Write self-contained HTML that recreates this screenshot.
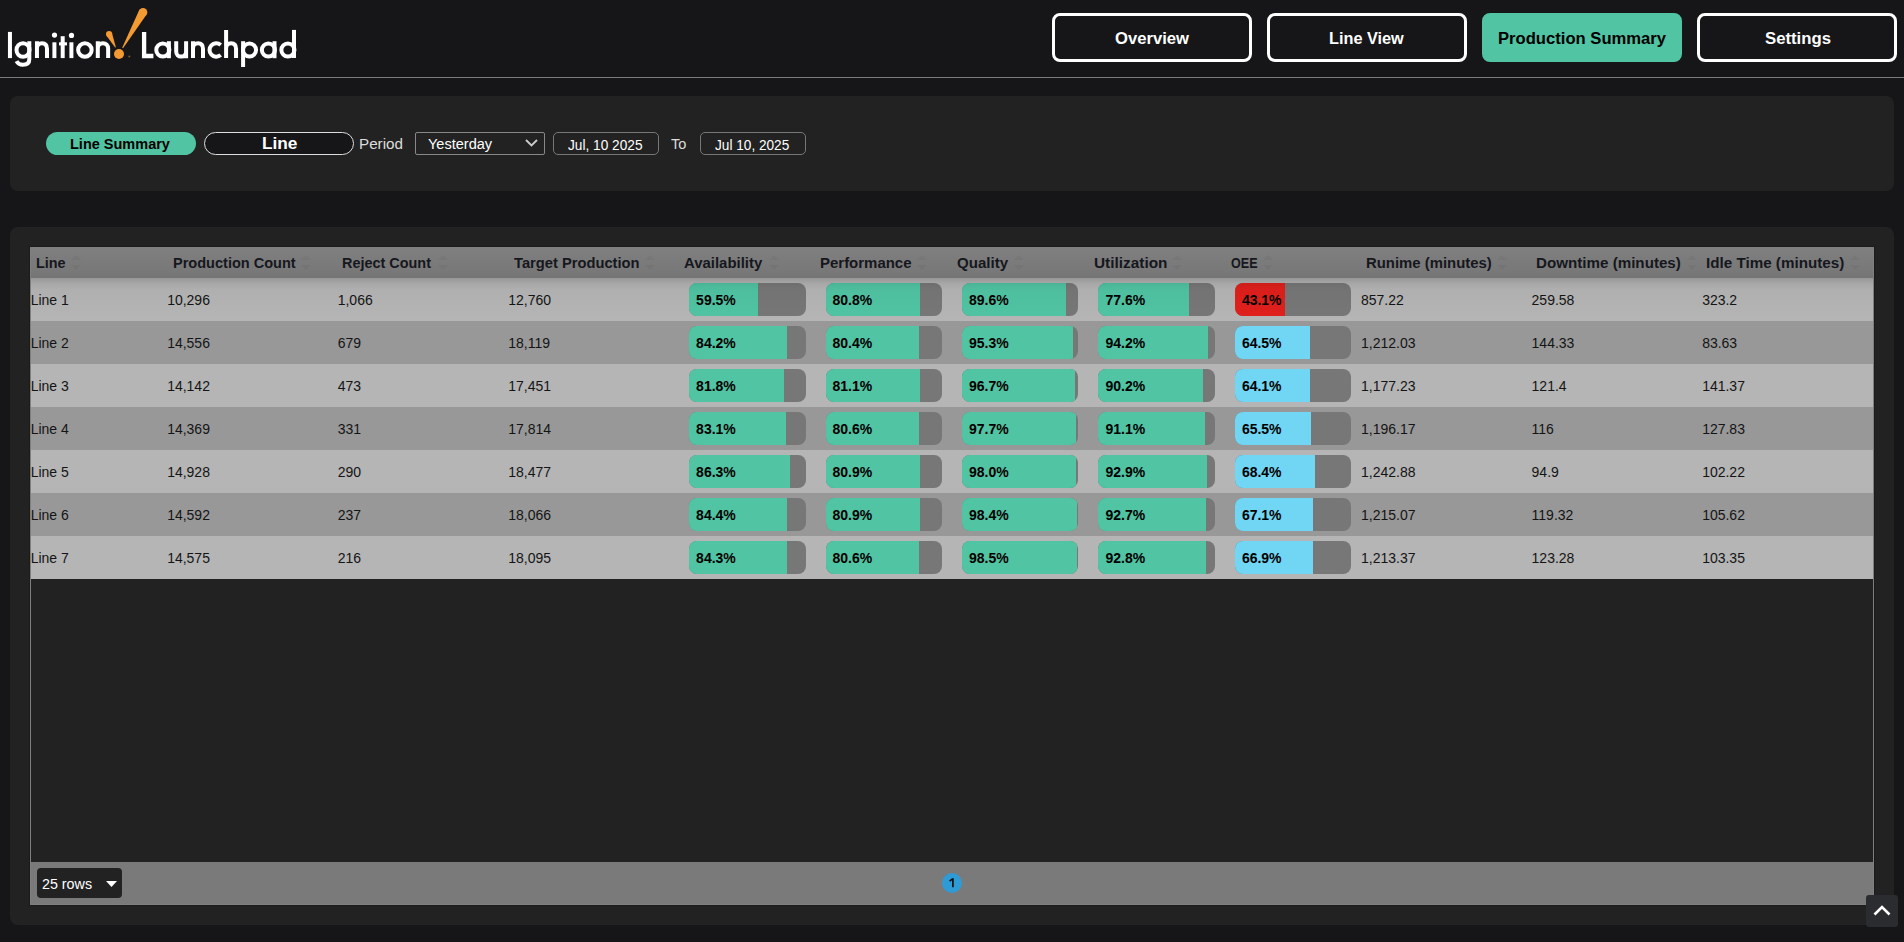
<!DOCTYPE html>
<html><head><meta charset="utf-8"><title>Production Summary</title>
<style>
*{margin:0;padding:0;box-sizing:border-box}
html,body{width:1904px;height:942px;overflow:hidden;background:#161618;font-family:"Liberation Sans",sans-serif;position:relative}
.abs{position:absolute}
.sx{position:absolute;white-space:nowrap;transform-origin:0 0}
.hline{left:0;top:77px;width:1904px;height:1px;background:#7c7c7c}
.nav{top:13px;width:200px;height:49px;border:3px solid #fff;border-radius:8px;background:#161618}
.nav.on{background:#50C4A3;border-color:#50C4A3}
.nt{top:16px;font-weight:bold;font-size:16px;color:#fff;line-height:18px}
.panel{left:10px;width:1884px;background:#222;border-radius:8px}
.pill{top:132px;height:23px;width:150px;border-radius:12px}
.lbl{color:#ddd;font-size:14px}
.box{top:132px;height:23px;border:1px solid #777}
.wt{color:#fff;font-size:14px}
.tbl{left:30px;top:247px;width:1844px;height:658px;background:#222;border:1px solid #808080;box-shadow:0 0 0 1px #1b1b1b}
.th{top:248px;height:30px;left:31px;width:1842px;background:linear-gradient(#7f7f7f,#787878 80%,#747474);}
.thc{top:256px;font-size:14px;font-weight:bold;color:#16171d;line-height:16px}
.row{left:31px;width:1842px;height:43px}
.c{font-size:14px;color:#141414;line-height:16px}
.bar{height:33px;border-radius:8px;background:#777;overflow:hidden}
.bar .f{position:absolute;left:0;top:0;bottom:0;background:#50C4A3}
.bar .t{position:absolute;left:7px;top:9px;font-size:14px;font-weight:bold;color:#000;line-height:16px;white-space:nowrap}
</style></head><body>
<div class="abs hline"></div>

<!-- logo -->
<svg class="abs" style="left:0;top:0" width="310" height="76" viewBox="0 0 310 76">
<g fill="none" stroke="#fff" stroke-width="4">
<!-- I -->
<path d="M9.95,31.9 V58.1"/>
<!-- g -->
<ellipse cx="23" cy="50" rx="6.5" ry="6.85"/>
<path d="M29.3,41.2 V59.3 C29.3,63.3 26.6,64.8 22.8,64.8 C20,64.8 17.8,63.7 16.5,61.2"/>
<!-- n -->
<path d="M36.95,58.1 V41.2 M36.95,48.6 C36.95,45.2 39.1,43.3 42,43.3 C45.1,43.3 47,45.3 47,48.8 V58.1"/>
<!-- i -->
<path d="M54.4,42.3 V58.1"/>
<!-- t -->
<path d="M62.7,36.2 V58.1"/>
<path d="M59,43.85 H67" stroke-width="3.1"/>
<!-- i -->
<path d="M71.4,42.3 V58.1"/>
<!-- o -->
<circle cx="84.9" cy="50" r="6.75"/>
<!-- n -->
<path d="M97.8,58.1 V41.2 M97.8,48.6 C97.8,45.2 99.95,43.3 102.9,43.3 C106,43.3 108.15,45.3 108.15,48.8 V58.1"/>
<!-- L -->
<path d="M144.1,32.1 V56 H153.4" stroke-width="4.3"/>
<!-- a -->
<circle cx="162.8" cy="50" r="6.55"/>
<path d="M168.9,41.2 V58.2"/>
<!-- u -->
<path d="M176.2,41.2 V51.4 C176.2,54.8 178.3,56.6 181.2,56.6 C184.2,56.6 186.1,54.6 186.1,51.2 V41.2 M186.1,50 V58.2"/>
<!-- n -->
<path d="M193,58.1 V41.2 M193,48.6 C193,45.2 195.1,43.3 198,43.3 C201.1,43.3 203,45.3 203,48.8 V58.1"/>
<!-- c -->
<path d="M220.7,44.9 A6.75,6.75 0 1 0 220.7,55.1"/>
<!-- h -->
<path d="M226.1,29.9 V58.1 M226.1,48.6 C226.1,45.2 228.2,43.3 231.1,43.3 C234.2,43.3 236.05,45.3 236.05,48.8 V58.1"/>
<!-- p -->
<path d="M243.1,41.2 V67"/>
<circle cx="249.5" cy="50" r="6.55"/>
<!-- a -->
<circle cx="268.4" cy="50" r="6.55"/>
<path d="M274.5,41.2 V58.2"/>
<!-- d -->
<circle cx="287.9" cy="50" r="6.55"/>
<path d="M294,29.9 V58"/>
</g>
<g fill="#F39A33">
<circle cx="109.1" cy="34.1" r="3.1"/>
<path d="M111.89,32.75 L115.86,47.23 L115.14,47.57 L106.31,35.45 Z"/>
<circle cx="119" cy="54" r="5"/>
<circle cx="143" cy="12.2" r="4.3"/>
<path d="M146.74,14.33 L123.03,48.25 L122.17,47.75 L139.26,10.07 Z"/>
<circle cx="129.3" cy="56.5" r="1" opacity=".5"/>
</g>
<g fill="#fff">
<circle cx="54.5" cy="35.1" r="2.6"/>
<circle cx="71.5" cy="35.4" r="2.6"/>
</g>
</svg>

<!-- nav -->
<div class="abs nav" style="left:1052px"></div>
<div class="abs nav" style="left:1267px"></div>
<div class="abs nav on" style="left:1482px"></div>
<div class="abs nav" style="left:1697px"></div>
<div class="sx nt" style="left:1115.20px;top:30px;transform:scaleX(1.0389);">Overview</div>
<div class="sx nt" style="left:1329.40px;top:30px;transform:scaleX(1.0162);">Line View</div>
<div class="sx nt" style="left:1497.96px;top:30px;transform:scaleX(1.0385);color:#000">Production Summary</div>
<div class="sx nt" style="left:1764.80px;top:30px;transform:scaleX(1.0445);">Settings</div>

<!-- filter panel -->
<div class="abs panel" style="top:96px;height:95px"></div>
<div class="abs pill" style="left:46px;background:#50C4A3"></div>
<div class="abs pill" style="left:204px;background:#161618;border:1px solid #ddd"></div>
<div class="abs box" style="left:415px;width:130px;border-radius:2px;border-color:#888"></div>
<svg class="abs" style="left:525px;top:139px" width="13" height="8" viewBox="0 0 13 8"><path d="M1,1 L6.5,6.5 L12,1" fill="none" stroke="#ccc" stroke-width="1.8"/></svg>
<div class="abs box" style="left:553px;width:106px;border-radius:5px"></div>
<div class="abs box" style="left:700px;width:106px;border-radius:5px"></div>
<div class="sx " style="left:70.17px;top:136px;transform:scaleX(1.0354);font-size:14px;font-weight:bold;color:#000;line-height:16px">Line Summary</div>
<div class="sx " style="left:262.30px;top:134px;transform:scaleX(1.0150);font-size:17px;font-weight:bold;color:#fff;line-height:19px">Line</div>
<div class="sx lbl" style="left:358.92px;top:136px;transform:scaleX(1.0873);line-height:16px">Period</div>
<div class="sx wt" style="left:428.00px;top:136px;transform:scaleX(1.0387);line-height:16px">Yesterday</div>
<div class="sx wt" style="left:568.00px;top:137px;transform:scaleX(0.9764);line-height:16px">Jul, 10 2025</div>
<div class="sx lbl" style="left:671.39px;top:136px;transform:scaleX(1.0404);line-height:16px">To</div>
<div class="sx wt" style="left:715.00px;top:137px;transform:scaleX(0.9737);line-height:16px">Jul 10, 2025</div>

<!-- table panel -->
<div class="abs panel" style="top:227px;height:698px"></div>
<div class="abs tbl"></div>
<div class="abs th"></div>
<div class="sx thc" style="left:35.78px;top:255px;transform:scaleX(1.0288);">Line</div>
<svg class="abs" style="left:71.0px;top:255px" width="10" height="15" viewBox="0 0 10 15"><path d="M5,0 L10,5 L0,5 Z M0,10 L10,10 L5,15 Z" fill="#000" opacity=".04"/></svg>
<div class="sx thc" style="left:172.80px;top:255px;transform:scaleX(1.0376);">Production Count</div>
<svg class="abs" style="left:301.1px;top:255px" width="10" height="15" viewBox="0 0 10 15"><path d="M5,0 L10,5 L0,5 Z M0,10 L10,10 L5,15 Z" fill="#000" opacity=".04"/></svg>
<div class="sx thc" style="left:342.19px;top:255px;transform:scaleX(1.0302);">Reject Count</div>
<svg class="abs" style="left:437.6px;top:255px" width="10" height="15" viewBox="0 0 10 15"><path d="M5,0 L10,5 L0,5 Z M0,10 L10,10 L5,15 Z" fill="#000" opacity=".04"/></svg>
<div class="sx thc" style="left:514.27px;top:255px;transform:scaleX(1.0504);">Target Production</div>
<svg class="abs" style="left:645.1px;top:255px" width="10" height="15" viewBox="0 0 10 15"><path d="M5,0 L10,5 L0,5 Z M0,10 L10,10 L5,15 Z" fill="#000" opacity=".04"/></svg>
<div class="sx thc" style="left:684.29px;top:255px;transform:scaleX(1.0658);">Availability</div>
<svg class="abs" style="left:768.7px;top:255px" width="10" height="15" viewBox="0 0 10 15"><path d="M5,0 L10,5 L0,5 Z M0,10 L10,10 L5,15 Z" fill="#000" opacity=".04"/></svg>
<div class="sx thc" style="left:820.10px;top:255px;transform:scaleX(1.0690);">Performance</div>
<svg class="abs" style="left:916.9px;top:255px" width="10" height="15" viewBox="0 0 10 15"><path d="M5,0 L10,5 L0,5 Z M0,10 L10,10 L5,15 Z" fill="#000" opacity=".04"/></svg>
<div class="sx thc" style="left:957.37px;top:255px;transform:scaleX(1.0767);">Quality</div>
<svg class="abs" style="left:1014.2px;top:255px" width="10" height="15" viewBox="0 0 10 15"><path d="M5,0 L10,5 L0,5 Z M0,10 L10,10 L5,15 Z" fill="#000" opacity=".04"/></svg>
<div class="sx thc" style="left:1093.54px;top:255px;transform:scaleX(1.0985);">Utilization</div>
<svg class="abs" style="left:1172.0px;top:255px" width="10" height="15" viewBox="0 0 10 15"><path d="M5,0 L10,5 L0,5 Z M0,10 L10,10 L5,15 Z" fill="#000" opacity=".04"/></svg>
<div class="sx thc" style="left:1230.54px;top:255px;transform:scaleX(0.8966);">OEE</div>
<svg class="abs" style="left:1262.5px;top:255px" width="10" height="15" viewBox="0 0 10 15"><path d="M5,0 L10,5 L0,5 Z M0,10 L10,10 L5,15 Z" fill="#000" opacity=".04"/></svg>
<div class="sx thc" style="left:1366.26px;top:255px;transform:scaleX(1.0632);">Runime (minutes)</div>
<svg class="abs" style="left:1497.4px;top:255px" width="10" height="15" viewBox="0 0 10 15"><path d="M5,0 L10,5 L0,5 Z M0,10 L10,10 L5,15 Z" fill="#000" opacity=".04"/></svg>
<div class="sx thc" style="left:1536.45px;top:255px;transform:scaleX(1.0827);">Downtime (minutes)</div>
<svg class="abs" style="left:1687.0px;top:255px" width="10" height="15" viewBox="0 0 10 15"><path d="M5,0 L10,5 L0,5 Z M0,10 L10,10 L5,15 Z" fill="#000" opacity=".04"/></svg>
<div class="sx thc" style="left:1706.16px;top:255px;transform:scaleX(1.0857);">Idle Time (minutes)</div>
<svg class="abs" style="left:1850.0px;top:255px" width="10" height="15" viewBox="0 0 10 15"><path d="M5,0 L10,5 L0,5 Z M0,10 L10,10 L5,15 Z" fill="#000" opacity=".04"/></svg>
<div class="abs row" style="top:278px;background:#b5b5b5"></div>
<div class="sx c" style="left:30.70px;top:292px;">Line 1</div>
<div class="sx c" style="left:167.14px;top:292px;">10,296</div>
<div class="sx c" style="left:337.70px;top:292px;">1,066</div>
<div class="sx c" style="left:508.26px;top:292px;">12,760</div>
<div class="abs bar" style="left:689.11px;top:283px;width:116.44px"><div class="f" style="width:69.28px;background:#50C4A3"></div><div class="t">59.5%</div></div>
<div class="abs bar" style="left:825.56px;top:283px;width:116.44px"><div class="f" style="width:94.09px;background:#50C4A3"></div><div class="t">80.8%</div></div>
<div class="abs bar" style="left:962.00px;top:283px;width:116.44px"><div class="f" style="width:104.33px;background:#50C4A3"></div><div class="t">89.6%</div></div>
<div class="abs bar" style="left:1098.44px;top:283px;width:116.44px"><div class="f" style="width:90.36px;background:#50C4A3"></div><div class="t">77.6%</div></div>
<div class="abs bar" style="left:1234.89px;top:283px;width:116.44px"><div class="f" style="width:50.19px;background:#E0201C"></div><div class="t">43.1%</div></div>
<div class="sx c" style="left:1361.03px;top:292px;">857.22</div>
<div class="sx c" style="left:1531.59px;top:292px;">259.58</div>
<div class="sx c" style="left:1702.14px;top:292px;">323.2</div>
<div class="abs" style="left:31px;top:278px;width:1842px;height:43px;background:linear-gradient(rgba(0,0,0,.17) 0px,rgba(0,0,0,.07) 6px,rgba(0,0,0,.03) 12px,rgba(0,0,0,.01) 30px,rgba(0,0,0,0) 43px)"></div>
<div class="abs row" style="top:321px;background:#989898"></div>
<div class="sx c" style="left:30.70px;top:335px;">Line 2</div>
<div class="sx c" style="left:167.14px;top:335px;">14,556</div>
<div class="sx c" style="left:337.70px;top:335px;">679</div>
<div class="sx c" style="left:508.26px;top:335px;">18,119</div>
<div class="abs bar" style="left:689.11px;top:326px;width:116.44px"><div class="f" style="width:98.05px;background:#50C4A3"></div><div class="t">84.2%</div></div>
<div class="abs bar" style="left:825.56px;top:326px;width:116.44px"><div class="f" style="width:93.62px;background:#50C4A3"></div><div class="t">80.4%</div></div>
<div class="abs bar" style="left:962.00px;top:326px;width:116.44px"><div class="f" style="width:110.97px;background:#50C4A3"></div><div class="t">95.3%</div></div>
<div class="abs bar" style="left:1098.44px;top:326px;width:116.44px"><div class="f" style="width:109.69px;background:#50C4A3"></div><div class="t">94.2%</div></div>
<div class="abs bar" style="left:1234.89px;top:326px;width:116.44px"><div class="f" style="width:75.11px;background:#70D6F4"></div><div class="t">64.5%</div></div>
<div class="sx c" style="left:1361.03px;top:335px;">1,212.03</div>
<div class="sx c" style="left:1531.59px;top:335px;">144.33</div>
<div class="sx c" style="left:1702.14px;top:335px;">83.63</div>
<div class="abs row" style="top:364px;background:#b5b5b5"></div>
<div class="sx c" style="left:30.70px;top:378px;">Line 3</div>
<div class="sx c" style="left:167.14px;top:378px;">14,142</div>
<div class="sx c" style="left:337.70px;top:378px;">473</div>
<div class="sx c" style="left:508.26px;top:378px;">17,451</div>
<div class="abs bar" style="left:689.11px;top:369px;width:116.44px"><div class="f" style="width:95.25px;background:#50C4A3"></div><div class="t">81.8%</div></div>
<div class="abs bar" style="left:825.56px;top:369px;width:116.44px"><div class="f" style="width:94.44px;background:#50C4A3"></div><div class="t">81.1%</div></div>
<div class="abs bar" style="left:962.00px;top:369px;width:116.44px"><div class="f" style="width:112.60px;background:#50C4A3"></div><div class="t">96.7%</div></div>
<div class="abs bar" style="left:1098.44px;top:369px;width:116.44px"><div class="f" style="width:105.03px;background:#50C4A3"></div><div class="t">90.2%</div></div>
<div class="abs bar" style="left:1234.89px;top:369px;width:116.44px"><div class="f" style="width:74.64px;background:#70D6F4"></div><div class="t">64.1%</div></div>
<div class="sx c" style="left:1361.03px;top:378px;">1,177.23</div>
<div class="sx c" style="left:1531.59px;top:378px;">121.4</div>
<div class="sx c" style="left:1702.14px;top:378px;">141.37</div>
<div class="abs row" style="top:407px;background:#989898"></div>
<div class="sx c" style="left:30.70px;top:421px;">Line 4</div>
<div class="sx c" style="left:167.14px;top:421px;">14,369</div>
<div class="sx c" style="left:337.70px;top:421px;">331</div>
<div class="sx c" style="left:508.26px;top:421px;">17,814</div>
<div class="abs bar" style="left:689.11px;top:412px;width:116.44px"><div class="f" style="width:96.77px;background:#50C4A3"></div><div class="t">83.1%</div></div>
<div class="abs bar" style="left:825.56px;top:412px;width:116.44px"><div class="f" style="width:93.85px;background:#50C4A3"></div><div class="t">80.6%</div></div>
<div class="abs bar" style="left:962.00px;top:412px;width:116.44px"><div class="f" style="width:113.77px;background:#50C4A3"></div><div class="t">97.7%</div></div>
<div class="abs bar" style="left:1098.44px;top:412px;width:116.44px"><div class="f" style="width:106.08px;background:#50C4A3"></div><div class="t">91.1%</div></div>
<div class="abs bar" style="left:1234.89px;top:412px;width:116.44px"><div class="f" style="width:76.27px;background:#70D6F4"></div><div class="t">65.5%</div></div>
<div class="sx c" style="left:1361.03px;top:421px;">1,196.17</div>
<div class="sx c" style="left:1531.59px;top:421px;">116</div>
<div class="sx c" style="left:1702.14px;top:421px;">127.83</div>
<div class="abs row" style="top:450px;background:#b5b5b5"></div>
<div class="sx c" style="left:30.70px;top:464px;">Line 5</div>
<div class="sx c" style="left:167.14px;top:464px;">14,928</div>
<div class="sx c" style="left:337.70px;top:464px;">290</div>
<div class="sx c" style="left:508.26px;top:464px;">18,477</div>
<div class="abs bar" style="left:689.11px;top:455px;width:116.44px"><div class="f" style="width:100.49px;background:#50C4A3"></div><div class="t">86.3%</div></div>
<div class="abs bar" style="left:825.56px;top:455px;width:116.44px"><div class="f" style="width:94.20px;background:#50C4A3"></div><div class="t">80.9%</div></div>
<div class="abs bar" style="left:962.00px;top:455px;width:116.44px"><div class="f" style="width:114.12px;background:#50C4A3"></div><div class="t">98.0%</div></div>
<div class="abs bar" style="left:1098.44px;top:455px;width:116.44px"><div class="f" style="width:108.18px;background:#50C4A3"></div><div class="t">92.9%</div></div>
<div class="abs bar" style="left:1234.89px;top:455px;width:116.44px"><div class="f" style="width:79.65px;background:#70D6F4"></div><div class="t">68.4%</div></div>
<div class="sx c" style="left:1361.03px;top:464px;">1,242.88</div>
<div class="sx c" style="left:1531.59px;top:464px;">94.9</div>
<div class="sx c" style="left:1702.14px;top:464px;">102.22</div>
<div class="abs row" style="top:493px;background:#989898"></div>
<div class="sx c" style="left:30.70px;top:507px;">Line 6</div>
<div class="sx c" style="left:167.14px;top:507px;">14,592</div>
<div class="sx c" style="left:337.70px;top:507px;">237</div>
<div class="sx c" style="left:508.26px;top:507px;">18,066</div>
<div class="abs bar" style="left:689.11px;top:498px;width:116.44px"><div class="f" style="width:98.28px;background:#50C4A3"></div><div class="t">84.4%</div></div>
<div class="abs bar" style="left:825.56px;top:498px;width:116.44px"><div class="f" style="width:94.20px;background:#50C4A3"></div><div class="t">80.9%</div></div>
<div class="abs bar" style="left:962.00px;top:498px;width:116.44px"><div class="f" style="width:114.58px;background:#50C4A3"></div><div class="t">98.4%</div></div>
<div class="abs bar" style="left:1098.44px;top:498px;width:116.44px"><div class="f" style="width:107.94px;background:#50C4A3"></div><div class="t">92.7%</div></div>
<div class="abs bar" style="left:1234.89px;top:498px;width:116.44px"><div class="f" style="width:78.13px;background:#70D6F4"></div><div class="t">67.1%</div></div>
<div class="sx c" style="left:1361.03px;top:507px;">1,215.07</div>
<div class="sx c" style="left:1531.59px;top:507px;">119.32</div>
<div class="sx c" style="left:1702.14px;top:507px;">105.62</div>
<div class="abs row" style="top:536px;background:#b5b5b5"></div>
<div class="sx c" style="left:30.70px;top:550px;">Line 7</div>
<div class="sx c" style="left:167.14px;top:550px;">14,575</div>
<div class="sx c" style="left:337.70px;top:550px;">216</div>
<div class="sx c" style="left:508.26px;top:550px;">18,095</div>
<div class="abs bar" style="left:689.11px;top:541px;width:116.44px"><div class="f" style="width:98.16px;background:#50C4A3"></div><div class="t">84.3%</div></div>
<div class="abs bar" style="left:825.56px;top:541px;width:116.44px"><div class="f" style="width:93.85px;background:#50C4A3"></div><div class="t">80.6%</div></div>
<div class="abs bar" style="left:962.00px;top:541px;width:116.44px"><div class="f" style="width:114.70px;background:#50C4A3"></div><div class="t">98.5%</div></div>
<div class="abs bar" style="left:1098.44px;top:541px;width:116.44px"><div class="f" style="width:108.06px;background:#50C4A3"></div><div class="t">92.8%</div></div>
<div class="abs bar" style="left:1234.89px;top:541px;width:116.44px"><div class="f" style="width:77.90px;background:#70D6F4"></div><div class="t">66.9%</div></div>
<div class="sx c" style="left:1361.03px;top:550px;">1,213.37</div>
<div class="sx c" style="left:1531.59px;top:550px;">123.28</div>
<div class="sx c" style="left:1702.14px;top:550px;">103.35</div>
<!-- body empty area border -->
<!-- footer -->
<div class="abs" style="left:31px;top:862px;width:1842px;height:42px;background:#7a7a7a"></div>
<div class="abs" style="left:37px;top:868px;width:85px;height:30px;background:#222;border-radius:4px"></div>
<div class="sx wt" style="left:42.00px;top:876px;transform:scaleX(1.0205);line-height:16px">25 rows</div>
<svg class="abs" style="left:106px;top:881px" width="11" height="6" viewBox="0 0 11 6"><path d="M0,0 L11,0 L5.5,6 Z" fill="#fff"/></svg>
<div class="abs" style="left:942px;top:873px;width:20px;height:20px;border-radius:50%;background:#2E9AD6"></div>
<svg class="abs" style="left:942px;top:873px" width="20" height="20" viewBox="0 0 20 20"><path d="M10.9,5.3 V14.2 M10.9,5.6 L7.6,8.2" fill="none" stroke="#111" stroke-width="1.7"/></svg>

<!-- scroll top -->
<div class="abs" style="left:1866px;top:895px;width:32px;height:32px;background:#2B2C30;border-radius:3px"></div>
<svg class="abs" style="left:1866px;top:895px" width="32" height="32" viewBox="0 0 32 32"><path d="M8.5,19.5 L16,12 L23.5,19.5" fill="none" stroke="#fff" stroke-width="2.6"/></svg>
</body></html>
